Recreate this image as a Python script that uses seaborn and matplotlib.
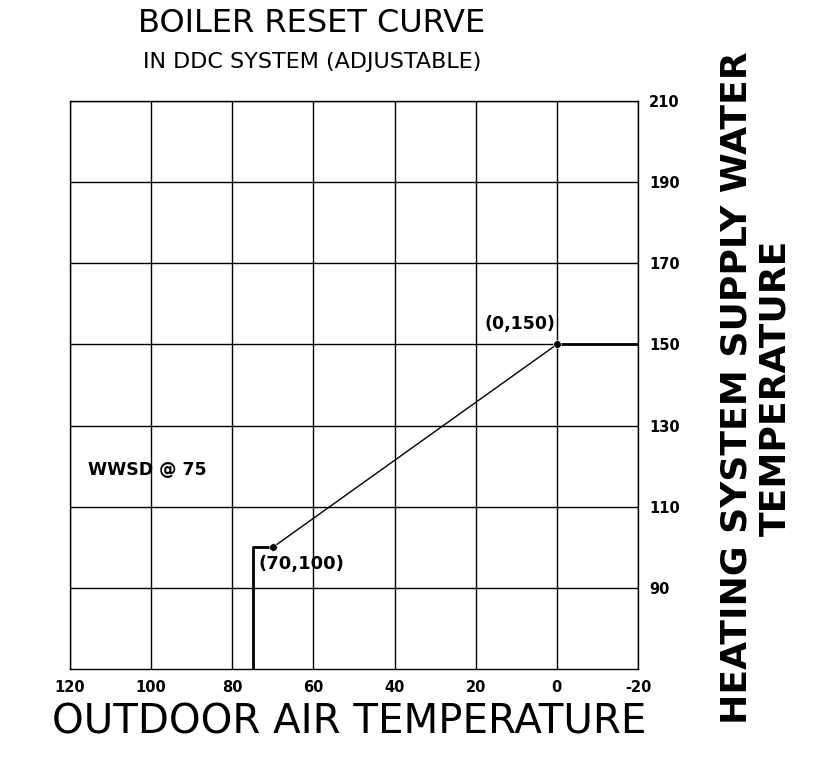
import pandas as pd
import seaborn as sns
import matplotlib.pyplot as plt

# Datos de la curva de reset
oat_flat = [-20, 0]
sws_flat = [150, 150]
oat_reset = [0, 70]
sws_reset = [150, 100]
oat_wwsd = [70, 75, 75]
sws_wwsd = [100, 100, 70]
puntos_x = [0, 70]
puntos_y = [150, 100]
puntos_txt = ["(0,150)", "(70,100)"]

x_ticks = [120, 100, 80, 60, 40, 20, 0, -20]
y_ticks = [90, 110, 130, 150, 170, 190, 210]

sns.set_theme(style="white")
plt.rcParams['font.family'] = ['DejaVu Sans']
plt.rcParams.update({'text.color': 'black', 'axes.labelcolor': 'black',
                     'xtick.color': 'black', 'ytick.color': 'black'})

fig = plt.figure(figsize=(8.37, 7.7), dpi=100)
ax = fig.add_axes([70 / 837, (770 - 669) / 770, 568 / 837, 568 / 770])

sns.lineplot(x=oat_flat, y=sws_flat, color="black", linewidth=2, sort=False, estimator=None, ax=ax)
sns.lineplot(x=oat_reset, y=sws_reset, color="black", linewidth=1, sort=False, estimator=None, ax=ax)
sns.lineplot(x=oat_wwsd, y=sws_wwsd, color="black", linewidth=2, sort=False, estimator=None, ax=ax)
sns.scatterplot(x=puntos_x, y=puntos_y, color="black", s=30, zorder=5, ax=ax)

ax.set_xlim(120, -20)
ax.set_ylim(70, 210)
ax.set_xticks(x_ticks)
ax.set_yticks(y_ticks)
ax.set_xticklabels([str(t) for t in x_ticks])
ax.yaxis.tick_right()
ax.tick_params(length=0, labelsize=10.5, pad=8)
for lbl in ax.get_xticklabels() + ax.get_yticklabels():
    lbl.set_fontweight("bold")
ax.grid(True, color="black", linewidth=1)
for s in ax.spines.values():
    s.set_color("black")
    s.set_linewidth(1)

ax.text(0.4, 152.8, puntos_txt[0], ha="right", va="bottom", fontsize=12.5, fontweight="bold")
ax.text(73.5, 98, puntos_txt[1], ha="left", va="top", fontsize=13, fontweight="bold")
ax.text(115.6, 119, "WWSD @ 75", ha="left", va="center", fontsize=12.5, fontweight="bold")

fig.text(312 / 837, 1 - 23 / 770, "BOILER RESET CURVE", ha="center", va="center", fontsize=23)
fig.text(312 / 837, 1 - 62 / 770, "IN DDC SYSTEM (ADJUSTABLE)", ha="center", va="center", fontsize=16)
fig.text(349 / 837, 1 - 723 / 770, "OUTDOOR AIR TEMPERATURE", ha="center", va="center", fontsize=29)
fig.text(756 / 837, 1 - 388 / 770, "HEATING SYSTEM SUPPLY WATER\nTEMPERATURE", ha="center", va="center",
         rotation=90, fontsize=26, fontweight="bold", linespacing=1.18)

plt.savefig("out.png", dpi=100)
